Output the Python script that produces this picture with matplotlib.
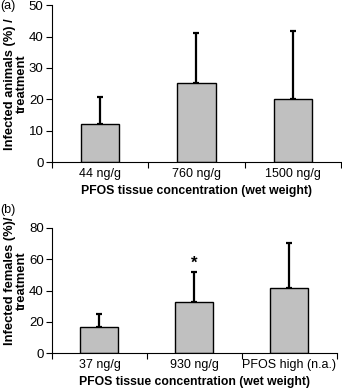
import numpy as np
import matplotlib.pyplot as plt

plt.rcParams['font.family'] = ['Liberation Sans', 'DejaVu Sans']

# Panel (a): infected animals
cats_a = ['44 ng/g', '760 ng/g', '1500 ng/g']
vals_a = [12.3, 25.2, 20.0]
err_a = [8.3, 15.8, 21.7]

# Panel (b): infected females
cats_b = ['37 ng/g', '930 ng/g', 'PFOS high (n.a.)']
vals_b = [16.8, 32.8, 41.5]
err_b = [8.2, 19.0, 28.8]
star_b = [None, '*', None]

fig = plt.figure(figsize=(3.42, 3.90), dpi=100)
ax_a = fig.add_axes([0.152, 0.584, 0.845, 0.403])
ax_b = fig.add_axes([0.152, 0.094, 0.833, 0.322])


def draw_panel(ax, cats, vals, errs, ymax, ystep, ylabel, ylab_x, ylab_y):
    x = np.arange(len(cats))
    ax.bar(x, vals, width=0.4, color='#c0c0c0', edgecolor='black', linewidth=1.0, zorder=2)
    ax.errorbar(x, vals, yerr=[np.zeros(len(errs)), errs], fmt='none',
                ecolor='black', elinewidth=1.6, capsize=2.5, capthick=1.6, zorder=1)
    ax.set_xlim(-0.5, len(cats) - 0.5)
    ax.set_ylim(0, ymax)
    ax.set_yticks(np.arange(0, ymax + 1, ystep))
    # category boundaries as ticks, labels in between
    ax.set_xticks(np.arange(-0.5, len(cats), 1.0))
    ax.set_xticklabels([])
    ax.set_xticks(x, minor=True)
    ax.set_xticklabels(cats, minor=True, fontsize=9)
    ax.tick_params(axis='x', which='minor', length=0, pad=4)
    ax.tick_params(axis='x', which='major', length=4, width=0.8, direction='out')
    ax.tick_params(axis='y', length=4, width=0.8, labelsize=9.5, pad=2)
    for s in ['top', 'right']:
        ax.spines[s].set_visible(False)
    ax.spines['left'].set_linewidth(0.8)
    ax.spines['bottom'].set_linewidth(0.8)
    ax.set_xlabel('PFOS tissue concentration (wet weight)', fontsize=8.8,
                  fontweight='bold', labelpad=4)
    ax.set_ylabel(ylabel, fontsize=9.3, fontweight='bold', linespacing=0.95)
    ax.yaxis.set_label_coords(ylab_x, ylab_y)


draw_panel(ax_a, cats_a, vals_a, err_a, 50, 10, 'Infected animals (%) /\ntreatment', -0.083, 0.5)
draw_panel(ax_b, cats_b, vals_b, err_b, 80, 20, 'Infected females (%)/\ntreatment', -0.085, 0.58)

for i, s in enumerate(star_b):
    if s:
        ax_b.text(i, vals_b[i] + err_b[i] + 0.5, s, ha='center', va='bottom',
                  fontsize=12, fontweight='bold')

fig.text(0.002, 0.985, '(a)', fontsize=9, va='center', ha='left')
fig.text(0.002, 0.462, '(b)', fontsize=9, va='center', ha='left')

fig.savefig('out.png', dpi=100)
